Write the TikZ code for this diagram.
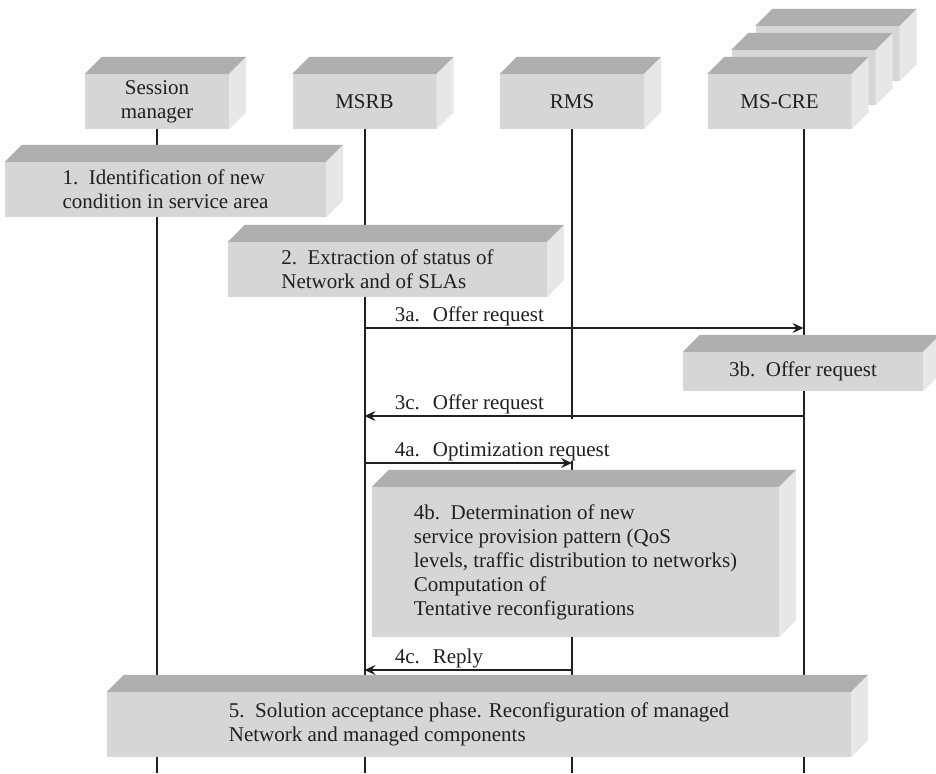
\documentclass[tikz,border=0pt]{standalone}
\usepackage{fontspec}
\setmainfont{Liberation Serif}
\usetikzlibrary{positioning,arrows.meta,backgrounds}
\definecolor{frontgray}{RGB}{213,214,216}
\definecolor{topgray}{RGB}{174,175,177}
\definecolor{sidegray}{RGB}{230,231,233}
\definecolor{inkgray}{RGB}{35,31,32}
\newcommand{\dz}{17}
\newcommand{\boxfaces}[1]{%
  \fill[topgray] (#1.north west) -- ++(\dz,-\dz) -- ([shift={(\dz,-\dz)}]#1.north east) -- (#1.north east) -- cycle;
  \fill[sidegray] (#1.north east) -- ++(\dz,-\dz) -- ([shift={(\dz,-\dz)}]#1.south east) -- (#1.south east) -- cycle;}

\begin{document}
\begin{tikzpicture}[x=1pt,y=-1pt,node distance=207.5pt,on grid,
    font=\fontsize{21}{24}\selectfont,text=inkgray,
    actor/.style={fill=frontgray,minimum width=144pt,minimum height=55pt,inner sep=0pt,align=center},
    phase/.style={fill=frontgray,inner sep=0pt,align=left},
    lifeline/.style={draw=inkgray,line width=2pt},
    msg/.style={draw=inkgray,line width=2pt,-{Stealth[length=11pt,width=10pt,inset=4pt]}},
    msglabel/.style={anchor=base west,xshift=26pt,yshift=7pt}]
  \useasboundingbox (0,0) rectangle (936,773);

  \node[actor] (sm) at (157,101.5) {Session\\manager};
  \node[actor] (msrb) [right=of sm] {MSRB};
  \node[actor] (rms) [right=of msrb] {RMS};
  \node[actor,xshift=48pt,yshift=48pt] (cre3) [right=of rms] {};
  \boxfaces{cre3}
  \node[actor,xshift=24pt,yshift=24pt] (cre2) [right=of rms] {};
  \boxfaces{cre2}
  \node[actor] (mscre) [right=of rms] {MS-CRE};
  \foreach \n in {sm,msrb,rms,mscre} {\boxfaces{\n}}

  \coordinate (crel) at ([xshift=24pt]mscre.south);
  \coordinate (bottom) at (0,773);
  \coordinate (y3a) at (0,328);
  \coordinate (y3c) at (0,416);
  \coordinate (y4a) at (0,463);
  \coordinate (y4c) at (0,670);

  \node[phase,minimum width=321pt,minimum height=55pt] (s1) at (165.5,189.5)
    {1.\ \ Identification of new\\condition in service area};
  \node[phase,minimum width=319pt,minimum height=55pt] (s2) at (387.5,269.5)
    {2.\ \ Extraction of status of\\Network and of SLAs};
  \node[phase,minimum width=240pt,minimum height=39pt] (s3b) at (803,371.5)
    {3b.\ \ Offer request};
  \node[phase,minimum width=407pt,minimum height=150pt] (s4b) at (575.5,562)
    {4b.\ \ Determination of new\\service provision pattern (QoS\\levels, traffic distribution to networks)\\Computation of\\Tentative reconfigurations};
  \node[phase,minimum width=744pt,minimum height=65pt] (s5) at (479,724.5)
    {5.\ \ Solution acceptance phase. Reconfiguration of managed\\Network and managed components};
  \foreach \n in {s1,s2,s3b,s4b,s5} {\boxfaces{\n}}

  \begin{scope}[on background layer]
    \fill[white] (0,0) rectangle (936,773);
    \draw[lifeline] (sm.south) -- (sm |- bottom);
    \draw[lifeline] (msrb.south) -- (msrb |- bottom);
    \draw[lifeline] (rms.south) -- ([yshift=-3pt]rms |- y3c);
    \draw[lifeline] ([yshift=2pt]rms |- y4a) -- (rms |- bottom);
    \draw[lifeline] (crel) -- (crel |- bottom);
  \end{scope}

  \draw[msg] (msrb |- y3a) -- node[msglabel,pos=0] {3a.\hspace{13pt}Offer request} (crel |- y3a);
  \draw[msg] (crel |- y3c) -- node[msglabel,pos=1] {3c.\hspace{13pt}Offer request} (msrb |- y3c);
  \draw[msg] (msrb |- y4a) -- node[msglabel,pos=0] {4a.\hspace{13pt}Optimization request} (rms |- y4a);
  \draw[msg] (rms |- y4c) -- node[msglabel,pos=1] {4c.\hspace{13pt}Reply} (msrb |- y4c);
\end{tikzpicture}
\end{document}
